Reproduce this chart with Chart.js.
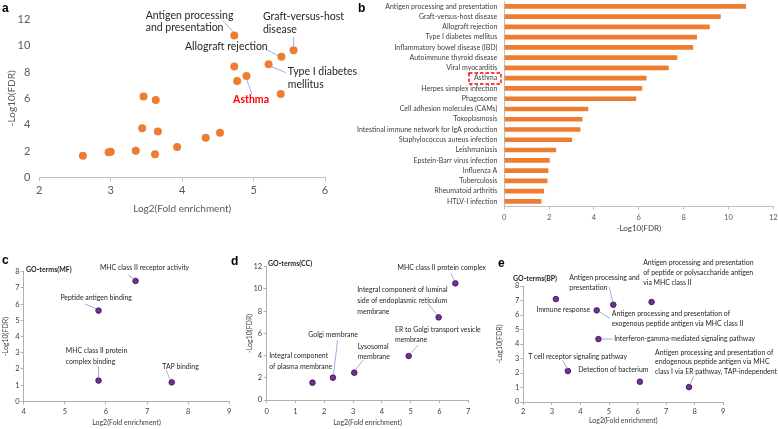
<!DOCTYPE html>
<html><head><meta charset="utf-8">
<script src="https://cdn.jsdelivr.net/npm/chart.js@4"></script>
<style>
html,body{margin:0;padding:0;background:#fff;width:778px;height:429px;overflow:hidden;position:relative;}
canvas{position:absolute;}
.pl{position:absolute;font-family:"Liberation Sans",Arial,sans-serif;font-weight:bold;font-size:12px;line-height:12px;color:#000;}
.go{position:absolute;font-family:Lato,sans-serif;font-weight:bold;font-size:7px;line-height:8px;color:#262626;white-space:nowrap;}
</style></head><body>
<canvas id="cb"></canvas><canvas id="ca"></canvas><canvas id="cc"></canvas><canvas id="cd"></canvas><canvas id="ce"></canvas>
<div class="pl" style="left:2px;top:2px">a</div>
<div class="pl" style="left:358px;top:2px">b</div>
<div class="pl" style="left:2px;top:254px">c</div>
<div class="pl" style="left:231px;top:255px">d</div>
<div class="pl" style="left:498px;top:257px">e</div>
<div class="go" style="left:26px;top:265px">GO-terms(MF)</div>
<div class="go" style="left:268px;top:259px">GO-terms(CC)</div>
<div class="go" style="left:513px;top:274px">GO-terms(BP)</div>
<script>
// ---------- DATA ----------
const keggTerms = ["Antigen processing and presentation","Graft-versus-host disease","Allograft rejection","Type I diabetes mellitus","Inflammatory bowel disease (IBD)","Autoimmune thyroid disease","Viral myocarditis","Asthma","Herpes simplex infection","Phagosome","Cell adhesion molecules (CAMs)","Toxoplasmosis","Intestinal immune network for IgA production","Staphylococcus aureus infection","Leishmaniasis","Epstein-Barr virus infection","Influenza A","Tuberculosis","Rheumatoid arthritis","HTLV-I infection"];
const keggFDR  = [10.77, 9.64, 9.15, 8.58, 8.41, 7.70, 7.32, 6.33, 6.14, 5.87, 3.73, 3.47, 3.38, 3.01, 2.30, 2.01, 1.95, 1.91, 1.76, 1.64];
const keggFold = [4.73, 5.56, 5.39, 5.21, 4.73, 4.90, 4.77, 5.38, 3.46, 3.63, 3.44, 3.66, 4.53, 4.33, 3.93, 3.35, 3.00, 2.97, 3.62, 2.61];

const mfTerms = ["MHC class II receptor activity","Peptide antigen binding","MHC class II protein complex binding","TAP binding"];
const mfFold  = [6.72, 5.82, 5.82, 7.60];
const mfFDR   = [7.43, 5.60, 1.28, 1.17];

const ccTerms = ["MHC class II protein complex","Integral component of luminal side of endoplasmic reticulum membrane","ER to Golgi transport vesicle membrane","Lysosomal membrane","Golgi membrane","Integral component of plasma membrane"];
const ccFold  = [6.55, 5.97, 4.93, 3.04, 2.30, 1.59];
const ccFDR   = [10.50, 7.44, 3.96, 2.46, 2.01, 1.56];

const bpTerms = ["Immune response","Antigen processing and presentation","Antigen processing and presentation of peptide or polysaccharide antigen via MHC class II","Antigen processing and presentation of exogenous peptide antigen via MHC class II","Interferon-gamma-mediated signaling pathway","T cell receptor signaling pathway","Detection of bacterium","Antigen processing and presentation of endogenous peptide antigen via MHC class I via ER pathway, TAP-independent"];
const bpFold  = [3.14, 5.15, 6.49, 4.57, 4.63, 3.56, 6.08, 7.80];
const bpFDR   = [7.10, 6.71, 6.90, 6.32, 4.34, 2.14, 1.40, 1.03];

const aXTicks = [2, 3, 4, 5, 6];      const aYTicks = [0, 2, 4, 6, 8, 10, 12];
const bXTicks = [0, 2, 4, 6, 8, 10, 12];
const cXTicks = [4, 5, 6, 7, 8, 9];   const cYTicks = [0, 1, 2, 3, 4, 5, 6, 7, 8];
const dXTicks = [0, 1, 2, 3, 4, 5, 6, 7]; const dYTicks = [0, 2, 4, 6, 8, 10, 12];
const eXTicks = [2, 3, 4, 5, 6, 7, 8, 9]; const eYTicks = [0, 1, 2, 3, 4, 5, 6, 7, 8];

const xTitle = "Log2(Fold enrichment)";
const yTitle = "-Log10(FDR)";
const highlightTerm = "Asthma";

// ---------- STYLE / LAYOUT ----------
Chart.defaults.font.family = 'Lato, sans-serif';
Chart.defaults.devicePixelRatio = 1;
const ORANGE = '#ED7D31', PURPLE = '#7030A0';

function place(id, box){
  const c = document.getElementById(id);
  c.width = box.w; c.height = box.h;
  c.style.left = box.l+'px'; c.style.top = box.t+'px';
  c.style.width = box.w+'px'; c.style.height = box.h+'px';
  return c;
}
const pts = (xs, ys) => xs.map((x,i)=>({x, y: ys[i]}));

const annotPlugin = {
  id: 'annot',
  afterDatasetsDraw(chart, args, o){
    const items = o.items || []; if(!items.length) return;
    const ctx = chart.ctx, data = chart.data.datasets[0].data;
    ctx.save();
    items.forEach(it=>{
      const p = data[it.i];
      const px = chart.scales.x.getPixelForValue(p.x), py = chart.scales.y.getPixelForValue(p.y);
      if(it.lead){
        ctx.strokeStyle = o.leadColor; ctx.lineWidth = o.leadWidth;
        ctx.beginPath(); ctx.moveTo(px+it.lead[0], py+it.lead[1]); ctx.lineTo(px+it.lead[2], py+it.lead[3]); ctx.stroke();
      }
      ctx.font = (it.bold?'bold ':'') + o.size + 'px ' + o.family;
      ctx.fillStyle = it.color || o.color; ctx.textAlign = it.align || 'left'; ctx.textBaseline = 'middle';
      it.lines.forEach((ln,k)=>ctx.fillText(ln, px+it.dx, py+it.dy+k*(it.lh||o.lh)));
    });
    ctx.restore();
  }
};

function scatterChart(id, box, area, cfg){
  const c = place(id, box);
  return new Chart(c, {
    type: 'scatter',
    data: { datasets: [{ data: pts(cfg.xs, cfg.ys), backgroundColor: cfg.color, borderColor: cfg.border, borderWidth: cfg.bw, pointRadius: cfg.r, pointHoverRadius: cfg.r }] },
    options: {
      responsive: false, animation: false, events: [],
      layout: { padding: { left: 0, top: area.t-box.t, right: box.l+box.w-area.r, bottom: 0 } },
      plugins: { legend: {display:false}, tooltip: {enabled:false}, annot: cfg.annot },
      scales: {
        x: { type:'linear', min: cfg.xt[0], max: cfg.xt[cfg.xt.length-1],
             afterFit: s => { s.height = box.t+box.h-area.b; },
             ticks: { stepSize: cfg.xt[1]-cfg.xt[0], color: cfg.tickColor, font:{size:cfg.tickSize}, padding: cfg.xtp },
             grid: { display:true, drawOnChartArea:false, drawTicks:true, tickLength: cfg.tl, color: cfg.axisColor },
             border: { display:true, color: cfg.axisColor },
             title: { display:true, text: xTitle, color: cfg.titleColor, font:{size:cfg.titleSize}, padding:{top:0, bottom: cfg.xtitlePad} } },
        y: { type:'linear', min: cfg.yt[0], max: cfg.yt[cfg.yt.length-1],
             afterFit: s => { s.width = area.l-box.l; },
             ticks: { stepSize: cfg.yt[1]-cfg.yt[0], color: cfg.tickColor, font:{size:cfg.tickSize}, padding: cfg.ytp },
             grid: { display: cfg.yTicksShown, drawOnChartArea:false, drawTicks: cfg.yTicksShown, tickLength: cfg.tl, color: cfg.axisColor },
             border: { display: cfg.yBorder, color: cfg.axisColor },
             title: { display:true, text: yTitle, color: cfg.titleColor, font:{size:cfg.titleSize}, padding:{top: cfg.ytitlePad, bottom:0} } }
      }
    },
    plugins: [annotPlugin]
  });
}

// ---------- PANEL a ----------
scatterChart('ca', {l:0,t:0,w:370,h:215}, {l:39.3,t:19.3,r:325,b:177.3}, {
  xs: keggFold, ys: keggFDR, xt: aXTicks, yt: aYTicks, color: ORANGE, border: ORANGE, bw: 0, r: 4,
  tickColor:'#595959', tickSize: 11, titleColor:'#595959', titleSize: 10, axisColor:'#bfbfbf', tl: 4,
  xtp: 3, ytp: 9, xtitlePad: 0, ytitlePad: 5.5, yTicksShown: false, yBorder: false,
  annot: { size: 10.5, family: 'Lato, sans-serif', color: '#262626', lh: 12.6, leadColor:'#8faadc', leadWidth: 0.9,
    items: [
      { i:0, lines:["Antigen processing","and presentation"], dx:-88.6, dy:-20, lead:[-11.6,-15,-1,-3.5] },
      { i:1, lines:["Graft-versus-host","disease"], dx:-30.6, dy:-33.6, lh:13, lead:[0,-13,0,-4] },
      { i:2, lines:["Allograft rejection"], dx:-96.4, dy:-10.6, lead:[-16.7,-8,-3.4,-1.3] },
      { i:3, lines:["Type I diabetes","mellitus"], dx:19.3, dy:7.7, lh:12.3, lead:[3,2.4,17.3,8.4] },
      { i:5, lines:[highlightTerm], dx:4.6, dy:24, align:'center', bold:true, color:'#ff0000', lead:[0,3,5.6,18.5] }
    ] }
});

// ---------- PANEL b ----------
(function(){
  const box = {l:345,t:-10,w:445,h:250}, area = {l:504.3,t:0.5,r:773.3,b:206.5};
  const c = place('cb', box);
  const boxPlugin = {
    id:'hlbox',
    afterDraw(chart){
      const ys = chart.scales.y, idx = keggTerms.indexOf(highlightTerm);
      const yc = ys.getPixelForValue(idx), right = ys.right - 7;
      const ctx = chart.ctx;
      ctx.save(); ctx.font = '7px Lato, sans-serif';
      const w = ctx.measureText(highlightTerm).width;
      ctx.strokeStyle = '#ff0000'; ctx.lineWidth = 1.4; ctx.setLineDash([3.5,2]);
      ctx.strokeRect(Math.round(right-w-5), Math.round(yc-5.5), Math.round(w+8.5), 11);
      ctx.restore();
    }
  };
  new Chart(c, {
    type:'bar',
    data:{ labels: keggTerms, datasets:[{ data: keggFDR, backgroundColor: ORANGE, barThickness: 4 }] },
    options:{
      indexAxis:'y', responsive:false, animation:false, events:[],
      layout:{ padding:{ left:0, top: area.t-box.t, right: box.l+box.w-area.r, bottom:0 } },
      plugins:{ legend:{display:false}, tooltip:{enabled:false} },
      scales:{
        x:{ type:'linear', min: bXTicks[0], max: bXTicks[bXTicks.length-1],
            afterFit: s => { s.height = box.t+box.h-area.b; },
            ticks:{ stepSize: bXTicks[1]-bXTicks[0], color:'#595959', font:{size:7.5}, padding:3.5 },
            grid:{ display:true, drawOnChartArea:false, drawTicks:true, tickLength:3, color:'#bfbfbf' },
            border:{ display:true, color:'#bfbfbf' },
            title:{ display:true, text: yTitle, color:'#404040', font:{size:8}, padding:{top:0,bottom:7} } },
        y:{ type:'category',
            afterFit: s => { s.width = area.l-box.l; },
            ticks:{ color:'#404040', font:{size:7}, padding:7, autoSkip:false },
            grid:{ display:false, drawTicks:false },
            border:{ display:true, color:'#bfbfbf' } }
      }
    },
    plugins:[boxPlugin]
  });
})();

// ---------- PANELS c, d, e ----------
const small = { color: PURPLE, border:'#2e1047', bw: 0.8, r: 2.8, tickColor:'#404040', tickSize: 7.5, titleColor:'#404040', titleSize: 7, axisColor:'#b0b0b0', tl: 3, yTicksShown: true, yBorder: true };
const smallAnnot = { size: 6.9, family:'Lato, sans-serif', color:'#262626', lh: 10.5, leadColor:'#7f9fcf', leadWidth: 0.8 };

scatterChart('cc', {l:0,t:255,w:240,h:174}, {l:23.7,t:271.7,r:229.3,b:401.3}, Object.assign({}, small, {
  xs: mfFold, ys: mfFDR, xt: cXTicks, yt: cYTicks, xtp: 3, ytp: 1, xtitlePad: 2, ytitlePad: 1.5,
  annot: Object.assign({}, smallAnnot, { items: [
    { i:0, lines:[mfTerms[0]], dx:9, dy:-13.3, align:'center', lead:[-7.4,-6,-2.2,-2] },
    { i:1, lines:[mfTerms[1]], dx:-2.4, dy:-12.7, align:'center', lead:[-13.7,-6.7,-2.2,-1.8] },
    { i:2, lines:["MHC class II protein","complex binding"], dx:-32.7, dy:-29.7, lh:11, lead:[0,-14,0,-2.8] },
    { i:3, lines:[mfTerms[3]], dx:-9.4, dy:-15.3, lead:[-5.7,-12.3,-1.5,-2.5] }
  ] })
}));

scatterChart('cd', {l:240,t:255,w:250,h:174}, {l:266.7,t:266.7,r:468.3,b:400}, Object.assign({}, small, {
  xs: ccFold, ys: ccFDR, xt: dXTicks, yt: dYTicks, xtp: 4, ytp: 1.5, xtitlePad: 2, ytitlePad: 5.5,
  annot: Object.assign({}, smallAnnot, { items: [
    { i:0, lines:[ccTerms[0]], dx:30.7, dy:-15.6, align:'right', lead:[-4.3,-10,-1,-2.7] },
    { i:1, lines:["Integral component of luminal","side of endoplasmic reticulum","membrane"], dx:-81.4, dy:-27.3, lh:10.8, lead:[-11,-14,-1.5,-2.4] },
    { i:2, lines:["ER to Golgi transport vesicle","membrane"], dx:-13.7, dy:-26.7, lh:10.7, lead:[9.6,-11,1.6,-2.6] },
    { i:3, lines:["Lysosomal","membrane"], dx:3.4, dy:-26, lh:10, lead:[9,-12.7,0.9,-2.6] },
    { i:4, lines:[ccTerms[4]], dx:-24.7, dy:-42.7, lead:[4.7,-37.7,0.5,-2.8] },
    { i:5, lines:["Integral component","of plasma membrane"], dx:-43.3, dy:-26.7, lh:10.7 }
  ] })
}));

scatterChart('ce', {l:495,t:255,w:283,h:174}, {l:523.3,t:286,r:723.3,b:402}, Object.assign({}, small, {
  xs: bpFold, ys: bpFDR, xt: eXTicks, yt: eYTicks, xtp: 2.2, ytp: 1, xtitlePad: 4.5, ytitlePad: 0.8,
  annot: Object.assign({}, smallAnnot, { items: [
    { i:0, lines:[bpTerms[0]], dx:-19.3, dy:11 },
    { i:1, lines:["Antigen processing and","presentation"], dx:-44, dy:-27.4, lh:10.4, lead:[-4,-18,-0.6,-3] },
    { i:2, lines:["Antigen processing and presentation","of peptide or polysaccharide antigen","via MHC class II"], dx:-8.4, dy:-38.7, lh:9.7 },
    { i:3, lines:["Antigen processing and presentation of","exogenous peptide antigen via MHC class II"], dx:15, dy:3, lh:10, lead:[2.6,1.4,13.3,8] },
    { i:4, lines:[bpTerms[4]], dx:15.7, dy:0, lead:[3.2,0,14.3,0] },
    { i:5, lines:[bpTerms[5]], dx:-39.7, dy:-14.3, lead:[-5.3,-11,-0.8,-2] },
    { i:6, lines:[bpTerms[6]], dx:-61.7, dy:-12.4 },
    { i:7, lines:["Antigen processing and presentation of","endogenous peptide antigen via MHC","class I via ER pathway, TAP-independent"], dx:-34, dy:-34.3, lh:9.5, lead:[4.3,-10.3,1,-2.2] }
  ] })
}));
</script>
</body></html>
